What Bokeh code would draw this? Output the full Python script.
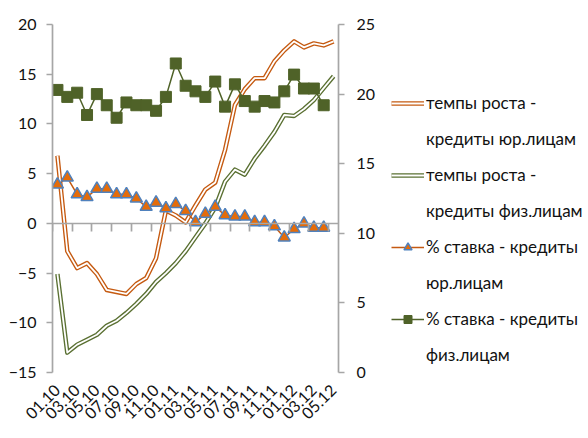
import math
from bokeh.plotting import figure
from bokeh.layouts import row
from bokeh.models import Range1d, LinearAxis, FixedTicker, Legend, LegendItem
from bokeh.embed import file_html
from bokeh.resources import INLINE

months = ["01.10", "02.10", "03.10", "04.10", "05.10", "06.10", "07.10", "08.10",
          "09.10", "10.10", "11.10", "12.10", "01.11", "02.11", "03.11", "04.11",
          "05.11", "06.11", "07.11", "08.11", "09.11", "10.11", "11.11", "12.11",
          "01.12", "02.12", "03.12", "04.12", "05.12"]

growth_jur = [6.8, -2.8, -4.5, -4.0, -5.1, -6.7, -6.9, -7.1, -6.1, -5.5, -3.5,
              1.3, 0.8, 0.1, 1.8, 3.4, 4.1, 7.4, 11.9, 13.5, 14.6, 14.6, 16.3,
              17.4, 18.3, 17.7, 18.1, 17.9, 18.3]
growth_phys = [-5.1, -13.0, -12.2, -11.7, -11.2, -10.3, -9.8, -9.0, -8.1, -7.1,
               -5.9, -5.0, -4.0, -2.8, -1.4, 0.0, 1.6, 4.2, 5.4, 4.9, 6.5, 7.8,
               9.2, 10.9, 10.8, 11.5, 12.4, 13.6, 14.8]
rate_jur = [13.5, 14.0, 12.8, 12.6, 13.2, 13.2, 12.8, 12.8, 12.5, 11.9, 12.2,
            11.8, 12.1, 11.6, 10.8, 11.4, 11.9, 11.3, 11.2, 11.2, 10.8, 10.8,
            10.5, 9.7, 10.3, 10.7, 10.4, 10.4]
rate_phys = [20.3, 19.8, 20.1, 18.5, 20.0, 19.2, 18.3, 19.4, 19.2, 19.2, 18.8,
             19.8, 22.2, 20.6, 20.2, 19.8, 20.9, 19.1, 20.7, 19.5, 19.1, 19.5,
             19.4, 20.2, 21.4, 20.4, 20.4, 19.2]

left_ticks = [-15, -10, -5, 0, 5, 10, 15, 20]
right_ticks = [0, 5, 10, 15, 20, 25]

labels = [("темпы роста -", "кредиты юр.лицам"),
          ("темпы роста -", "кредиты физ.лицам"),
          ("% ставка - кредиты", "юр.лицам"),
          ("% ставка - кредиты", "физ.лицам")]

FONT = "Lato"
AXIS_GRAY = "#a6a6a6"
ORANGE = "#c55a11"
GREEN = "#5a7032"
TRI_FILL = "#e46c0a"
TRI_LINE = "#4f81bd"
SQ = "#4f6228"

idx = list(range(len(months)))
idx_r = idx[:len(rate_jur)]

BORDER_TOP = 24
BORDER_BOTTOM = 66
HEIGHT = 438

p = figure(width=380, height=HEIGHT, output_backend="svg",
           toolbar_location=None, x_range=Range1d(-0.5, len(months) - 0.5),
           y_range=Range1d(left_ticks[0], left_ticks[-1]),
           x_axis_location=None, y_axis_location=None,
           min_border_left=52, min_border_top=BORDER_TOP,
           min_border_bottom=BORDER_BOTTOM, min_border_right=42)
p.extra_y_ranges = {"right": Range1d(right_ticks[0], right_ticks[-1])}
p.grid.grid_line_color = None
p.outline_line_color = None
p.background_fill_color = "white"
p.border_fill_color = "white"


def style_axis(ax):
    ax.axis_line_color = AXIS_GRAY
    ax.axis_line_width = 1.7
    ax.major_tick_line_color = AXIS_GRAY
    ax.major_tick_line_width = 1.7
    ax.major_tick_out = 6
    ax.major_tick_in = 0
    ax.minor_tick_line_color = None
    ax.major_label_text_font = FONT
    ax.major_label_text_font_size = "16px"
    ax.major_label_text_color = "#111111"


yl = LinearAxis(ticker=FixedTicker(ticks=left_ticks))
style_axis(yl)
yl.major_label_standoff = 10
p.add_layout(yl, "left")

yr = LinearAxis(y_range_name="right", ticker=FixedTicker(ticks=right_ticks))
style_axis(yr)
yr.major_label_standoff = 12
p.add_layout(yr, "right")

# zero line with category-boundary tick marks (every 2 categories)
xz = LinearAxis(fixed_location=0,
                ticker=FixedTicker(ticks=[], minor_ticks=[i - 0.5 for i in idx[::2]]))
style_axis(xz)
xz.minor_tick_line_color = AXIS_GRAY
xz.minor_tick_line_width = 1.7
xz.minor_tick_out = 8
xz.minor_tick_in = 0
xz.major_label_standoff = 0
p.add_layout(xz, "below")

xb = LinearAxis(ticker=FixedTicker(ticks=idx[::2]),
                major_label_overrides={i: months[i] for i in idx[::2]})
style_axis(xb)
xb.axis_line_color = None
xb.major_tick_line_color = None
xb.major_tick_out = 0
xb.major_label_orientation = math.pi / 4
xb.major_label_standoff = 15
p.add_layout(xb, "below")

p.line(idx, growth_jur, line_color=ORANGE, line_width=4.5, line_join="round")
p.line(idx, growth_jur, line_color="white", line_width=1.8, line_join="round")
p.line(idx, growth_phys, line_color=GREEN, line_width=4.5, line_join="round")
p.line(idx, growth_phys, line_color="white", line_width=1.8, line_join="round")

p.line(idx_r, rate_jur, y_range_name="right", line_color=ORANGE, line_width=1.5)
p.scatter(idx_r, rate_jur, y_range_name="right", marker="triangle", size=12,
          fill_color=TRI_FILL, line_color=TRI_LINE, line_width=1.5)
p.line(idx_r, rate_phys, y_range_name="right", line_color=SQ, line_width=1.5)
p.scatter(idx_r, rate_phys, y_range_name="right", marker="square", size=11,
          fill_color=SQ, line_color=SQ, line_width=1)

# ---- legend panel (separate figure to the right) ----
# its renderers carry the same series but its ranges keep them out of view,
# so only the legend samples are seen
lf = figure(width=206, height=HEIGHT, output_backend="svg", toolbar_location=None,
            x_range=Range1d(0, 1), y_range=Range1d(100, 101),
            x_axis_location=None, y_axis_location=None,
            min_border_left=11, min_border_top=BORDER_TOP, min_border_right=0,
            min_border_bottom=BORDER_BOTTOM)
lf.grid.grid_line_color = None
lf.outline_line_color = None

g1a = lf.line(idx, growth_jur, line_color=ORANGE, line_width=4.5)
g1b = lf.line(idx, growth_jur, line_color="white", line_width=1.8)
g2a = lf.line(idx, growth_phys, line_color=GREEN, line_width=4.5)
g2b = lf.line(idx, growth_phys, line_color="white", line_width=1.8)
g3l = lf.line(idx_r, rate_jur, line_color=ORANGE, line_width=1.5)
g3m = lf.scatter(idx_r, rate_jur, marker="triangle", size=10, fill_color=TRI_FILL,
                 line_color=TRI_LINE, line_width=1.5)
g4l = lf.line(idx_r, rate_phys, line_color=SQ, line_width=1.5)
g4m = lf.scatter(idx_r, rate_phys, marker="square", size=9, fill_color=SQ,
                 line_color=SQ, line_width=1)
blank = lf.line(idx_r, rate_phys, line_alpha=0)

series_renderers = [[g1a, g1b], [g2a, g2b], [g3l, g3m], [g4l, g4m]]
items = []
for (first, second), rends in zip(labels, series_renderers):
    items.append(LegendItem(label=first, renderers=rends))
    items.append(LegendItem(label=second, renderers=[blank]))

legend = Legend(items=items, location=(0, 7))
legend.label_text_font = FONT
legend.label_text_font_size = "17px"
legend.label_text_color = "#111111"
legend.label_height = 20
legend.glyph_width = 33
legend.glyph_height = 20
legend.label_standoff = 2
legend.spacing = 15
legend.padding = 0
legend.margin = 0
legend.border_line_color = None
legend.background_fill_alpha = 0
lf.add_layout(legend, "center")

layout = row(p, lf)
open("out.html", "w").write(file_html(layout, INLINE))
